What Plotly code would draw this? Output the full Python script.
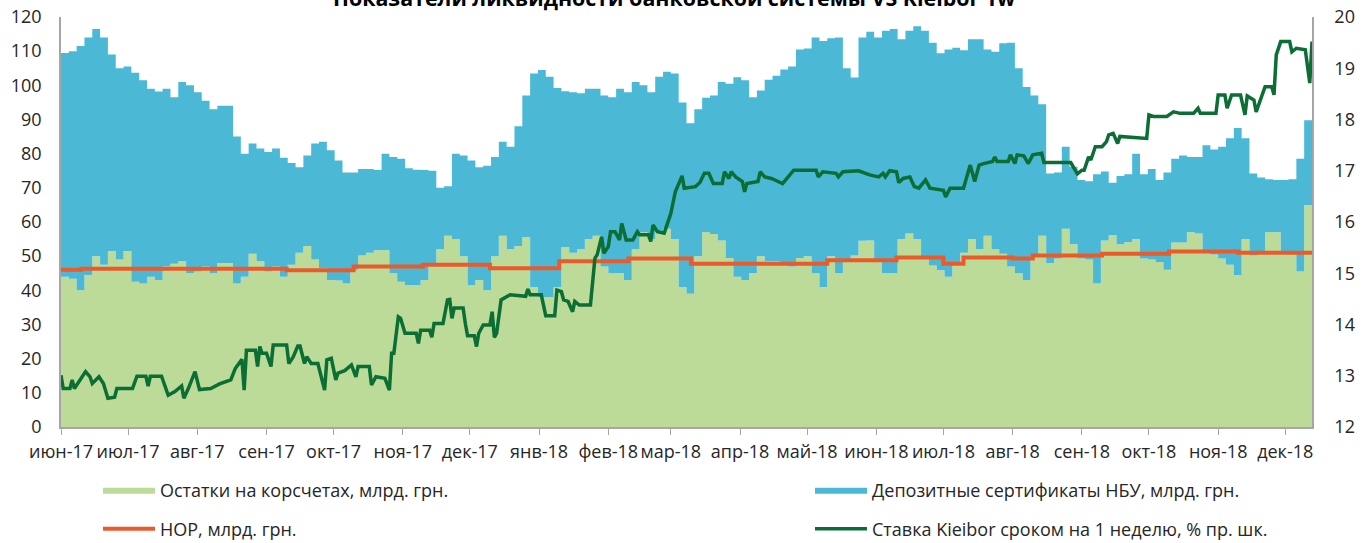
import pandas as pd
import numpy as np
import plotly.graph_objects as go

# ---- area data: half-week steps (every 3.5 days) starting 2017-06-01 ----
period_start = "2017-06-01"
korr = [44, 43.4, 40, 44.5, 50, 47.5, 51.5, 49, 51.5, 42.5,
        42, 44, 43, 47, 47.8, 48.5, 45, 45.5, 47, 45,
        48, 48, 42, 44, 50.7, 48.5, 45.5, 47, 44, 47.5,
        51, 53, 49, 46.5, 43, 42.9, 42, 46, 50.2, 51,
        51.7, 51.7, 45, 42.5, 41.5, 41.5, 43, 47.3, 52, 56,
        55, 50, 41.5, 43, 40, 50, 56, 52, 53, 55.6,
        41, 38, 38, 41, 52.7, 51, 52, 55, 56, 47,
        45, 45, 43, 52, 57, 55, 57, 58, 55, 41,
        39, 50, 57, 56.5, 54.6, 49.5, 44, 43, 45, 50,
        48.5, 48.5, 48, 47, 49.5, 50, 45, 41, 50, 45,
        49, 50.2, 54.5, 54.6, 49, 45, 45, 55, 56.6, 55,
        50, 47.3, 45.9, 44, 47.3, 51, 55, 52, 56, 52,
        50.7, 47, 45, 43, 50, 56, 48, 49.3, 58, 53.5,
        49.3, 49, 42, 54.6, 56.1, 53.5, 54.1, 55, 49.3, 49,
        48.3, 46, 54, 54, 57, 56.6, 51.7, 50.5, 49.3, 47.5,
        44.4, 55, 50.2, 51, 57, 57, 51.2, 51.2, 45.5, 65, 69]
dep_cert = [65.5, 66.6, 71.5, 69.5, 66.5, 66.5, 57.5, 56, 54, 61.2,
            59.5, 55, 55.2, 52, 48.7, 52.5, 55, 52.5, 48.5, 48,
            46, 46, 43, 36, 32.3, 33, 35, 34.5, 34.8, 29.8,
            25, 26.5, 34, 37, 38, 35.1, 32.5, 28.5, 25.3, 24.5,
            23.5, 28.3, 34, 36, 34.2, 33.8, 32.2, 27.7, 18, 14.5,
            25, 29.5, 36.5, 33, 36.5, 29, 27.5, 30, 35, 41.4,
            62.5, 66.5, 64.5, 58.2, 45.6, 47, 45.7, 44, 43, 50,
            51.5, 54, 55, 49, 43, 43, 45.5, 46, 48.5, 54,
            49.9, 43, 39.4, 40.5, 46.4, 51, 58.4, 58.5, 51.5, 48.5,
            53.1, 54.3, 56.6, 58.5, 61, 60.8, 69, 72, 63.8, 69,
            56, 52.1, 59.5, 61.1, 65, 71, 71.5, 58.5, 59.4, 62.3,
            66, 65.2, 63.5, 66.5, 63.7, 59.3, 58.5, 61.5, 54.5, 57.8,
            61.6, 65.5, 60, 56.5, 47, 38.5, 26.2, 25.2, 24, 22.7,
            23, 22.9, 32, 20.2, 15.4, 20, 19.9, 25, 24.7, 26.5,
            24, 28.5, 24.5, 25.5, 22, 22.4, 30.8, 30.7, 32.7, 37,
            43.1, 29.5, 24, 22, 15.5, 15.3, 21.1, 21.3, 33, 24.8, 20.8]
area_dates = pd.date_range(period_start, periods=len(korr), freq="84h")

# ---- НОР (change points) ----
nor_dates = ["2017-06-01", "2017-06-10", "2017-09-10", "2017-10-10", "2017-11-10",
             "2017-12-10", "2018-01-10", "2018-02-10", "2018-03-10", "2018-05-10",
             "2018-06-10", "2018-07-01", "2018-07-10", "2018-08-01", "2018-08-10",
             "2018-09-10", "2018-10-10", "2018-11-10", "2018-12-13"]
nor_vals = [46.0, 46.3, 45.9, 47.0, 47.5,
            46.5, 48.5, 49.3, 47.8, 48.8,
            49.6, 47.8, 49.6, 49.3, 50.2,
            50.7, 51.4, 51.0, 51.0]

# ---- Kieibor 1w ----
kiei_dates = [
    "2017-06-01", "2017-06-02", "2017-06-05", "2017-06-06", "2017-06-07", "2017-06-09", "2017-06-12",
    "2017-06-14", "2017-06-15", "2017-06-18", "2017-06-20", "2017-06-22", "2017-06-25", "2017-06-26",
    "2017-07-03", "2017-07-05", "2017-07-09", "2017-07-10", "2017-07-11", "2017-07-16", "2017-07-19",
    "2017-07-22", "2017-07-25", "2017-07-26", "2017-07-28", "2017-07-31", "2017-08-02", "2017-08-07",
    "2017-08-11", "2017-08-16", "2017-08-18", "2017-08-21", "2017-08-22", "2017-08-23", "2017-08-27",
    "2017-08-28", "2017-08-29", "2017-08-30", "2017-09-01", "2017-09-03", "2017-09-04", "2017-09-10",
    "2017-09-11", "2017-09-13", "2017-09-15", "2017-09-16", "2017-09-18", "2017-09-19", "2017-09-21",
    "2017-09-24", "2017-09-27", "2017-09-28", "2017-09-30", "2017-10-02", "2017-10-03", "2017-10-06",
    "2017-10-09", "2017-10-11", "2017-10-12", "2017-10-17", "2017-10-18", "2017-10-20", "2017-10-24",
    "2017-10-26", "2017-10-27", "2017-10-28", "2017-10-30", "2017-10-31", "2017-11-02", "2017-11-07",
    "2017-11-08", "2017-11-09", "2017-11-13", "2017-11-14", "2017-11-15", "2017-11-19", "2017-11-21",
    "2017-11-22", "2017-11-23", "2017-11-24", "2017-11-28", "2017-11-29", "2017-11-30", "2017-12-03",
    "2017-12-04", "2017-12-05", "2017-12-07", "2017-12-10", "2017-12-11", "2017-12-12", "2017-12-13",
    "2017-12-15", "2017-12-19", "2017-12-26", "2017-12-27", "2017-12-28", "2018-01-02", "2018-01-04",
    "2018-01-08", "2018-01-09", "2018-01-11", "2018-01-12", "2018-01-14", "2018-01-16", "2018-01-17",
    "2018-01-19", "2018-01-24", "2018-01-26", "2018-01-27", "2018-01-29", "2018-01-30", "2018-02-01",
    "2018-02-02", "2018-02-04", "2018-02-06", "2018-02-07", "2018-02-09", "2018-02-12", "2018-02-14",
    "2018-02-15", "2018-02-19", "2018-02-20", "2018-02-21", "2018-02-23", "2018-02-26", "2018-02-27",
    "2018-03-01", "2018-03-03", "2018-03-05", "2018-03-06", "2018-03-07", "2018-03-12", "2018-03-14",
    "2018-03-16", "2018-03-18", "2018-03-20", "2018-03-24", "2018-03-25", "2018-03-27", "2018-03-28",
    "2018-03-30", "2018-04-02", "2018-04-03", "2018-04-04", "2018-04-09", "2018-04-10", "2018-04-12",
    "2018-04-15", "2018-04-18", "2018-04-20", "2018-04-25", "2018-05-05", "2018-05-06", "2018-05-08",
    "2018-05-14", "2018-05-15", "2018-05-17", "2018-05-24", "2018-05-29", "2018-06-02", "2018-06-04",
    "2018-06-05", "2018-06-07", "2018-06-10", "2018-06-11", "2018-06-13", "2018-06-16", "2018-06-18",
    "2018-06-20", "2018-06-23", "2018-06-25", "2018-07-01", "2018-07-02", "2018-07-04", "2018-07-10",
    "2018-07-13", "2018-07-15", "2018-07-17", "2018-07-19", "2018-07-23", "2018-07-24", "2018-07-25",
    "2018-07-30", "2018-07-31", "2018-08-02", "2018-08-03", "2018-08-06", "2018-08-08", "2018-08-10",
    "2018-08-14", "2018-08-15", "2018-08-27", "2018-08-30", "2018-09-01", "2018-09-02", "2018-09-04",
    "2018-09-05", "2018-09-07", "2018-09-10", "2018-09-12", "2018-09-13", "2018-09-15", "2018-09-17",
    "2018-09-18", "2018-09-30", "2018-10-01", "2018-10-03", "2018-10-09", "2018-10-12", "2018-10-15",
    "2018-10-21", "2018-10-23", "2018-10-24", "2018-10-31", "2018-11-01", "2018-11-04", "2018-11-05",
    "2018-11-07", "2018-11-11", "2018-11-13", "2018-11-14", "2018-11-17", "2018-11-18", "2018-11-20",
    "2018-11-22", "2018-11-25", "2018-11-26", "2018-11-27", "2018-11-29", "2018-12-03", "2018-12-04",
    "2018-12-06", "2018-12-10", "2018-12-12", "2018-12-13"]
kiei_vals = [
    13.01, 12.75, 12.75, 12.92, 12.75, 12.88, 13.08,
    12.98, 12.85, 12.98, 12.85, 12.56, 12.58, 12.75,
    12.75, 12.99, 12.99, 12.80, 12.99, 12.99, 12.62,
    12.69, 12.80, 12.56, 12.75, 13.08, 12.73, 12.75,
    12.84, 12.92, 13.14, 13.32, 12.72, 13.50, 13.50,
    13.18, 13.57, 13.44, 13.44, 13.18, 13.60, 13.60,
    13.24, 13.37, 13.58, 13.58, 13.24, 13.37, 13.24,
    13.24, 12.72, 13.31, 13.34, 12.92, 13.05, 13.10,
    13.21, 12.98, 13.18, 13.18, 12.82, 12.98, 12.95,
    12.72, 13.44, 13.44, 14.15, 14.12, 13.83, 13.83,
    13.63, 13.89, 13.89, 13.75, 14.02, 14.02, 14.48,
    14.49, 14.12, 14.32, 14.32, 14.02, 13.78, 13.78,
    13.57, 13.83, 13.99, 13.99, 14.25, 13.75, 13.83,
    14.48, 14.58, 14.55, 14.69, 14.58, 14.58, 14.17,
    14.17, 14.67, 14.64, 14.48, 14.45, 14.25, 14.45,
    14.38, 14.38, 15.29, 15.36, 15.71, 15.39, 15.52,
    15.81, 15.81, 15.65, 15.97, 15.65, 15.65, 15.81,
    15.75, 15.75, 15.62, 15.94, 15.81, 15.78, 15.91,
    16.17, 16.59, 16.82, 16.90, 16.66, 16.69, 16.77,
    16.95, 16.95, 16.75, 16.75, 16.98, 16.85, 16.98,
    16.88, 16.79, 16.59, 16.75, 16.79, 16.98, 16.88,
    16.85, 16.79, 16.75, 17.01, 17.01, 16.88, 16.98,
    16.95, 16.88, 16.98, 17.00, 16.92, 16.88, 16.95,
    16.88, 17.00, 16.98, 16.77, 16.85, 16.88, 16.69,
    16.66, 16.82, 16.66, 16.62, 16.49, 16.66, 16.66,
    17.11, 16.79, 17.11, 17.14, 17.18, 17.27, 17.18,
    17.18, 17.31, 17.14, 17.31, 17.29, 17.14, 17.31,
    17.34, 17.16, 17.16, 16.94, 17.01, 17.01, 17.27,
    17.21, 17.47, 17.47, 17.57, 17.70, 17.73, 17.53,
    17.67, 17.63, 18.09, 18.06, 18.06, 18.15, 18.12,
    18.12, 18.22, 18.12, 18.12, 18.48, 18.48, 18.22,
    18.48, 18.48, 18.09, 18.46, 18.38, 18.15, 18.38,
    18.64, 18.64, 18.48, 19.26, 19.52, 19.52, 19.32,
    19.39, 19.36, 18.71, 19.52]

month_ticks = ["2017-06-01", "2017-07-01", "2017-08-01", "2017-09-01", "2017-10-01",
               "2017-11-01", "2017-12-01", "2018-01-01", "2018-02-01", "2018-03-01",
               "2018-04-01", "2018-05-01", "2018-06-01", "2018-07-01", "2018-08-01",
               "2018-09-01", "2018-10-01", "2018-11-01", "2018-12-01"]
month_labels = ["июн-17", "июл-17", "авг-17", "сен-17", "окт-17", "ноя-17", "дек-17",
                "янв-18", "фев-18", "мар-18", "апр-18", "май-18", "июн-18", "июл-18",
                "авг-18", "сен-18", "окт-18", "ноя-18", "дек-18"]

GREEN_FILL = "#BCDB98"
BLUE_FILL = "#4BB8D6"
RED = "#EB5A2B"
DGREEN = "#0B6E34"
FONT = "Open Sans"
TXT = "#262626"
W, H = 1368, 543
ML, MR, MT, MB = 61, 56, 17, 116
PW, PH = W - ML - MR, H - MT - MB

total = np.array(korr) + np.array(dep_cert)

fig = go.Figure()
fig.add_trace(go.Scatter(
    x=area_dates, y=korr, mode="lines", line=dict(width=0, shape="hv", color=GREEN_FILL),
    fill="tozeroy", fillcolor=GREEN_FILL, name="Остатки на корсчетах, млрд. грн.",
    legend="legend"))
fig.add_trace(go.Scatter(
    x=area_dates, y=total, mode="lines", line=dict(width=0, shape="hv", color=BLUE_FILL),
    fill="tonexty", fillcolor=BLUE_FILL, name="Депозитные сертификаты НБУ, млрд. грн.",
    legend="legend2"))
fig.add_trace(go.Scatter(
    x=pd.to_datetime(nor_dates), y=nor_vals, mode="lines",
    line=dict(width=4, shape="hv", color=RED), name="НОР, млрд. грн.", legend="legend3"))
fig.add_trace(go.Scatter(
    x=pd.to_datetime(kiei_dates), y=kiei_vals, mode="lines", yaxis="y2",
    line=dict(width=3.5, color=DGREEN), name="Ставка Kieibor сроком на 1 неделю, % пр. шк.",
    legend="legend4"))


def leg(xpx, ypx):
    return dict(orientation="h", itemwidth=52, xref="paper", yref="paper",
                x=(xpx - ML) / PW, y=(H - MB - ypx) / PH, xanchor="left", yanchor="middle",
                bgcolor="rgba(0,0,0,0)", font=dict(family=FONT, size=18, color=TXT))


fig.update_layout(
    width=W, height=H,
    margin=dict(l=ML, r=MR, t=MT, b=MB, autoexpand=False),
    paper_bgcolor="white", plot_bgcolor="white",
    font=dict(family=FONT, size=18, color=TXT),
    showlegend=True,
    legend=leg(98, 490), legend2=leg(810, 490),
    legend3=leg(98, 529), legend4=leg(810, 529),
    xaxis=dict(type="date", range=["2017-06-01", "2018-12-13"],
               tickvals=month_ticks, ticktext=month_labels, automargin=False,
               ticks="outside", ticklen=6, tickcolor="#A6A6A6", tickwidth=1,
               showline=True, linecolor="#A6A6A6", linewidth=1.5,
               showgrid=False, zeroline=False, ticklabelstandoff=2,
               tickfont=dict(family=FONT, size=18, color=TXT)),
    yaxis=dict(range=[0, 120], dtick=10, showgrid=False, zeroline=False, automargin=False,
               showline=True, linecolor="#A6A6A6", linewidth=1.5,
               ticks="", ticklabelstandoff=14,
               tickfont=dict(family=FONT, size=18, color=TXT)),
    yaxis2=dict(range=[12, 20], dtick=1, overlaying="y", side="right", automargin=False,
                showgrid=False, zeroline=False,
                showline=True, linecolor="#A6A6A6", linewidth=1.5,
                ticks="", ticklabelstandoff=17,
                tickfont=dict(family=FONT, size=18, color=TXT)),
    annotations=[dict(
        text="<b>Показатели ликвидности банковской системы VS Kieibor 1w</b>",
        xref="paper", yref="paper", x=(674 - ML) / PW, xanchor="center",
        y=(H - MB - 14) / PH, yanchor="bottom", showarrow=False,
        font=dict(family=FONT, size=21.4, color="#000000"))],
)

fig.write_html("out.html", config={"displayModeBar": False},
               post_script="document.body.style.margin='0px';")
